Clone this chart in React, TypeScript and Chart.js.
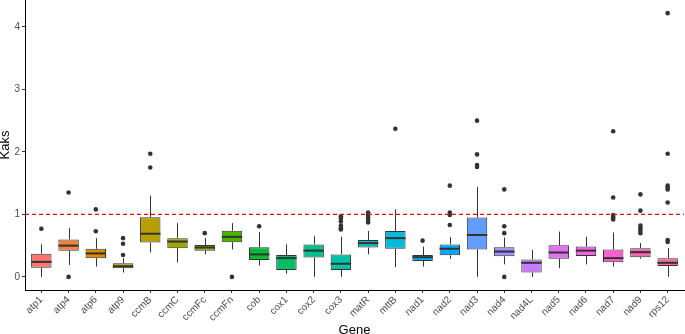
import React, { useEffect, useRef } from "react";
import { Chart, registerables } from "chart.js";

Chart.register(...registerables);

const genes = ["atp1","atp4","atp6","atp9","ccmB","ccmC","ccmFc","ccmFn","cob","cox1","cox2","cox3","matR","mttB","nad1","nad2","nad3","nad4","nad4L","nad5","nad6","nad7","nad9","rps12"];
const whiskerLow = [0.00,0.19,0.165,0.07,0.39,0.23,0.36,0.44,0.18,0.05,0.00,0.00,0.36,0.155,0.165,0.29,0.00,0.20,0.00,0.14,0.20,0.165,0.29,0.00];
const q1 = [0.145,0.42,0.30,0.14,0.55,0.46,0.42,0.555,0.27,0.11,0.31,0.11,0.47,0.45,0.255,0.345,0.44,0.33,0.07,0.29,0.335,0.235,0.315,0.175];
const median = [0.24,0.50,0.375,0.17,0.69,0.565,0.47,0.64,0.36,0.30,0.42,0.21,0.54,0.62,0.315,0.45,0.67,0.405,0.225,0.39,0.42,0.30,0.395,0.225];
const q3 = [0.37,0.60,0.45,0.22,0.955,0.62,0.51,0.74,0.475,0.35,0.52,0.36,0.59,0.736,0.35,0.52,0.95,0.475,0.28,0.505,0.485,0.44,0.46,0.30];
const whiskerHigh = [0.52,0.78,0.62,0.30,1.30,0.86,0.62,0.86,0.72,0.52,0.65,0.64,0.735,1.08,0.485,0.635,1.44,0.63,0.43,0.725,0.64,0.71,0.54,0.46];
const outliers: number[][] = [
  [0.77],
  [1.35, 0.0],
  [1.08, 0.73],
  [0.62, 0.53, 0.35],
  [1.97, 1.75],
  [],
  [0.70],
  [0.0],
  [0.81],
  [],
  [],
  [0.97, 0.93, 0.885, 0.82, 0.78, 0.76],
  [1.03, 0.99, 0.955, 0.91, 0.87],
  [2.37],
  [0.58],
  [1.46, 1.03, 0.99, 0.83],
  [2.50, 1.96, 1.79, 1.76],
  [1.40, 0.81, 0.70, 0.0],
  [],
  [],
  [],
  [2.33, 1.27, 0.99, 0.955, 0.92],
  [1.32, 1.06, 0.82, 0.78, 0.74, 0.70],
  [4.22, 1.97, 1.46, 1.43, 1.40, 1.19, 0.59, 0.56],
];
const yTicks = [0, 1, 2, 3, 4];
const refValue = 1;
const xTitle = "Gene";
const yTitle = "Kaks";

// ggplot2 hue palette (HCL, l=65, c=100)
function hclHex(h: number, c: number, l: number): string {
  const hr = (h * Math.PI) / 180;
  const U = c * Math.cos(hr);
  const V = c * Math.sin(hr);
  const Xn = 95.047, Yn = 100, Zn = 108.883;
  const den = Xn + 15 * Yn + 3 * Zn;
  const un = (4 * Xn) / den, vn = (9 * Yn) / den;
  const Y = Yn * Math.pow((l + 16) / 116, 3);
  const u = U / (13 * l) + un;
  const v = V / (13 * l) + vn;
  const X = (9 * Y * u) / (4 * v);
  const Z = -X / 3 - 5 * Y + (3 * Y) / v;
  const x = X / 100, y = Y / 100, z = Z / 100;
  const lin = [
    3.240479 * x - 1.53715 * y - 0.498535 * z,
    -0.969256 * x + 1.875992 * y + 0.041556 * z,
    0.055648 * x - 0.204043 * y + 1.057311 * z,
  ];
  return (
    "#" +
    lin
      .map((t) => {
        let g = t <= 0.0031308 ? 12.92 * t : 1.055 * Math.pow(t, 1 / 2.4) - 0.055;
        g = Math.max(0, Math.min(1, g));
        return Math.round(g * 255).toString(16).padStart(2, "0");
      })
      .join("")
  );
}
const colors = genes.map((_, i) => hclHex(15 + (360 / genes.length) * i, 100, 65));

const FONT = "'Liberation Sans', Arial, Helvetica, sans-serif";

export default function App() {
  const ref = useRef<HTMLCanvasElement | null>(null);
  useEffect(() => {
    const canvas = ref.current;
    if (!canvas) return;

    const boxPlugin = {
      id: "boxExtras",
      beforeDatasetsDraw(chart: any) {
        const { ctx, scales } = chart;
        const xs = scales.x, ys = scales.y;
        ctx.save();
        ctx.strokeStyle = "#333333";
        ctx.lineWidth = 1;
        genes.forEach((_, i) => {
          const px = Math.round(xs.getPixelForValue(i)) + 0.5;
          ctx.beginPath();
          ctx.moveTo(px, ys.getPixelForValue(whiskerHigh[i]));
          ctx.lineTo(px, ys.getPixelForValue(q3[i]));
          ctx.moveTo(px, ys.getPixelForValue(q1[i]));
          ctx.lineTo(px, ys.getPixelForValue(whiskerLow[i]));
          ctx.stroke();
        });
        ctx.restore();
      },
      afterDatasetDraw(chart: any, args: any) {
        if (args.index !== 0) return;
        const { ctx, scales } = chart;
        const xs = scales.x, ys = scales.y;
        const meta = chart.getDatasetMeta(0);
        ctx.save();
        ctx.strokeStyle = "#333333";
        ctx.lineWidth = 2;
        genes.forEach((_, i) => {
          const el = meta.data[i];
          const half = el.width / 2;
          const px = xs.getPixelForValue(i);
          const py = ys.getPixelForValue(median[i]);
          ctx.beginPath();
          ctx.moveTo(px - half, py);
          ctx.lineTo(px + half, py);
          ctx.stroke();
        });
        ctx.restore();
      },
      afterDatasetsDraw(chart: any) {
        const { ctx, scales, chartArea } = chart;
        const py = scales.y.getPixelForValue(refValue);
        ctx.save();
        ctx.strokeStyle = "#FF0000";
        ctx.lineWidth = 1.2;
        ctx.setLineDash([4, 3]);
        ctx.beginPath();
        ctx.moveTo(chartArea.left, py);
        ctx.lineTo(chartArea.right, py);
        ctx.stroke();
        ctx.restore();
      },
    };

    const outlierPoints: { x: number; y: number }[] = [];
    outliers.forEach((arr, i) => arr.forEach((v) => outlierPoints.push({ x: i, y: v })));

    const chart = new Chart(canvas, {
      type: "bar",
      data: {
        datasets: [
          {
            type: "bar",
            data: genes.map((_, i) => ({ x: i, y: [q1[i], q3[i]] })) as any,
            backgroundColor: colors,
            borderColor: "#333333",
            borderWidth: 1,
            borderSkipped: false,
            categoryPercentage: 1,
            barPercentage: 0.75,
            order: 1,
          } as any,
          {
            type: "scatter",
            data: outlierPoints,
            pointRadius: 2.3,
            pointBackgroundColor: "#333333",
            pointBorderWidth: 0,
            order: 0,
          } as any,
        ],
      },
      options: {
        animation: false,
        responsive: false,
        devicePixelRatio: 1,
        layout: { autoPadding: false, padding: { top: 0, right: 1, bottom: 0, left: 0 } },
        plugins: { legend: { display: false }, tooltip: { enabled: false } },
        scales: {
          x: {
            type: "linear",
            offset: false,
            bounds: "data",
            min: -0.6,
            max: genes.length - 1 + 0.6,
            afterBuildTicks: (s: any) => {
              s.ticks = genes.map((_, i) => ({ value: i }));
            },
            afterFit: (s: any) => {
              s.height = 44;
              s.paddingLeft = 0;
              s.paddingRight = 0;
              s.paddingTop = 0;
              s.paddingBottom = 0;
            },
            ticks: {
              autoSkip: false,
              maxRotation: 45,
              minRotation: 45,
              padding: 1,
              color: "#4D4D4D",
              font: { family: FONT, size: 10 },
              callback: (v: any) => genes[Math.round(Number(v))] ?? "",
            },
            grid: { display: true, offset: false, drawOnChartArea: false, drawTicks: true, tickLength: 3, color: "#333333" },
            border: { display: true, color: "#000000", width: 1 },
            title: {
              display: true,
              text: xTitle,
              color: "#000000",
              font: { family: FONT, size: 13, lineHeight: 0.6 },
              padding: 0,
            },
          },
          y: {
            type: "linear",
            bounds: "data",
            min: -0.21,
            max: 4.43,
            afterBuildTicks: (s: any) => {
              s.ticks = yTicks.map((v) => ({ value: v }));
            },
            afterFit: (s: any) => {
              s.width = 25;
              s.paddingLeft = 0;
              s.paddingRight = 0;
              s.paddingTop = 0;
              s.paddingBottom = 0;
            },
            ticks: {
              padding: 2,
              color: "#4D4D4D",
              font: { family: FONT, size: 10 },
              callback: (v: any) => String(v),
            },
            grid: { display: true, drawOnChartArea: false, drawTicks: true, tickLength: 3, color: "#333333" },
            border: { display: true, color: "#000000", width: 1 },
            title: {
              display: true,
              text: yTitle,
              color: "#000000",
              font: { family: FONT, size: 13, lineHeight: 0.85 },
              padding: 0,
            },
          },
        },
      },
      plugins: [boxPlugin],
    } as any);
    return () => chart.destroy();
  }, []);

  return (
    <div style={{ position: "fixed", left: 0, top: 0, width: 685, height: 334, background: "#fff" }}>
      <canvas ref={ref} width={685} height={334} />
    </div>
  );
}
